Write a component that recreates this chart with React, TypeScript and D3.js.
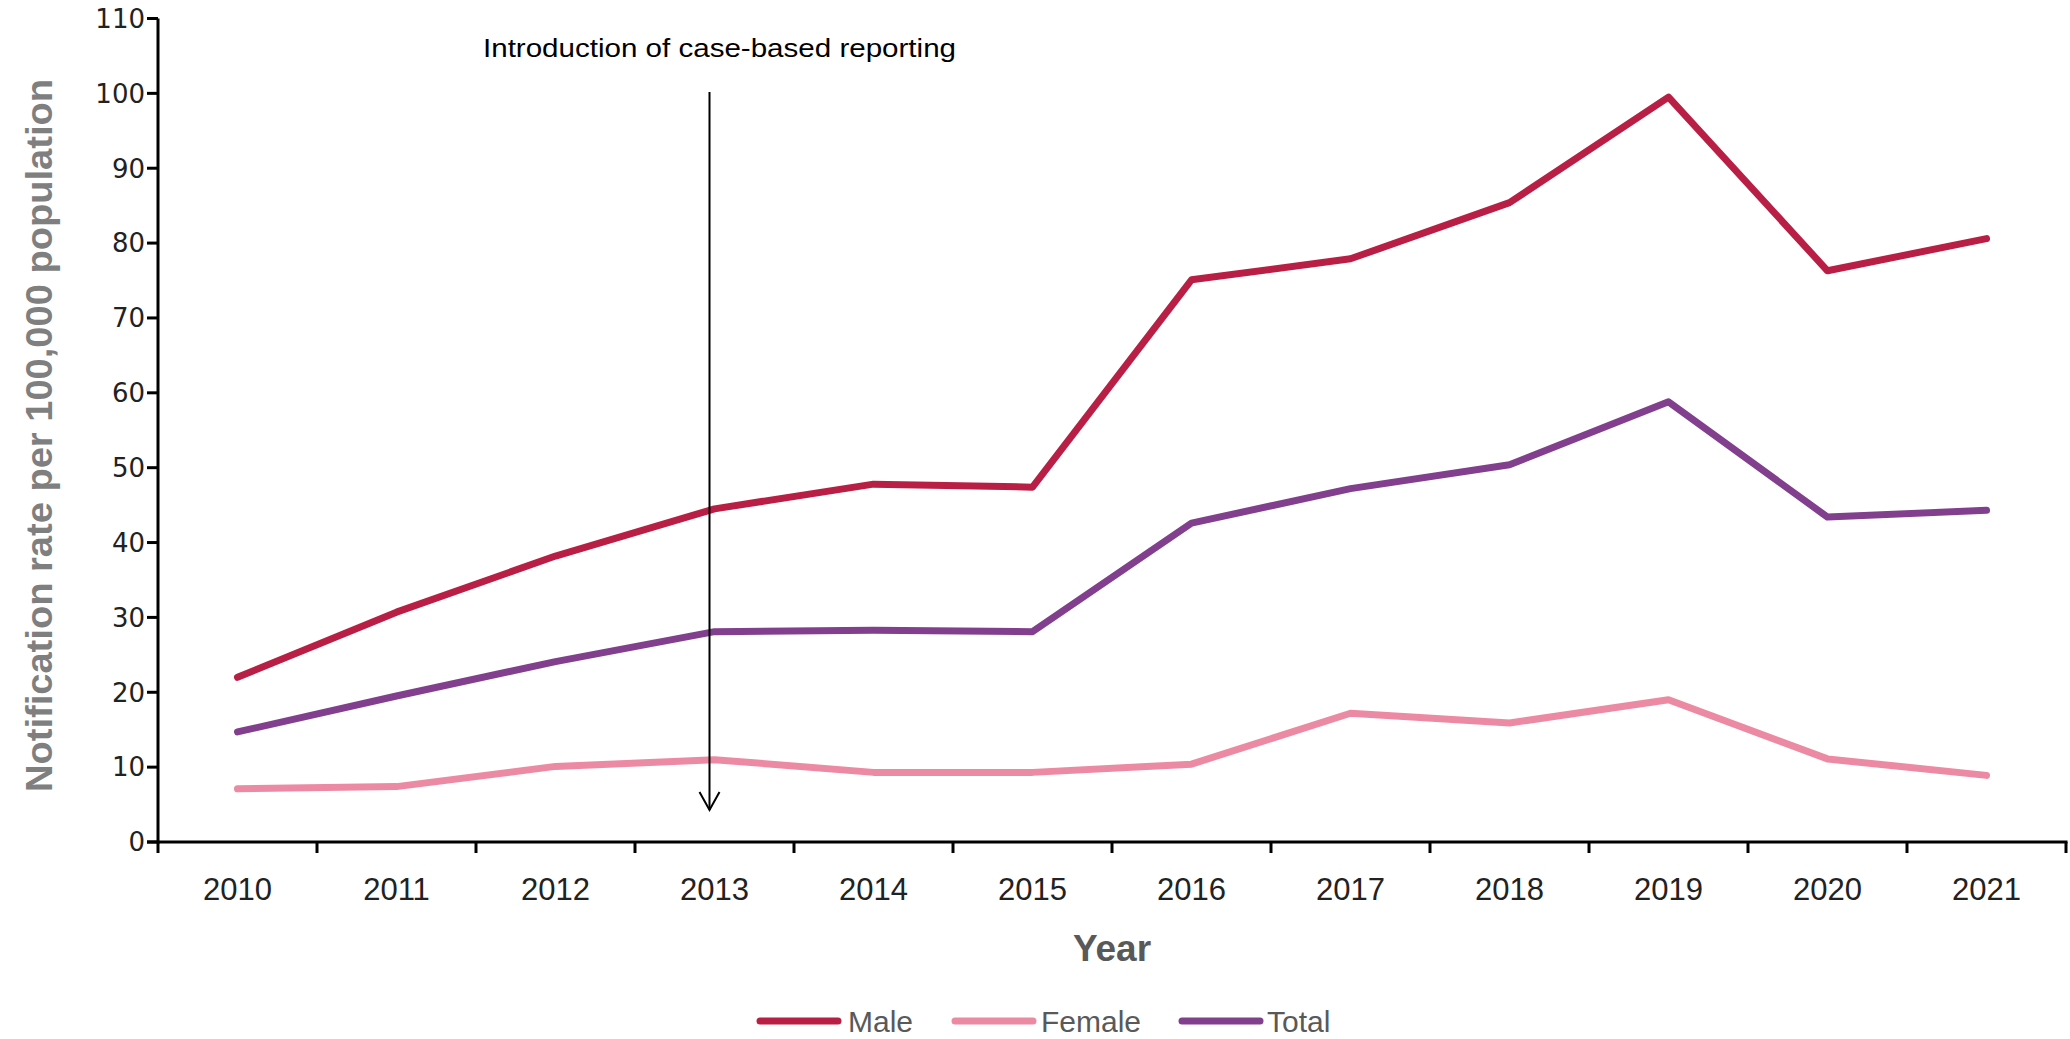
import React from "react";
import * as d3 from "d3";

const years = ["2010", "2011", "2012", "2013", "2014", "2015", "2016", "2017", "2018", "2019", "2020", "2021"];
const male = [22.0, 30.7, 38.2, 44.5, 47.8, 47.4, 75.1, 77.9, 85.4, 99.5, 76.3, 80.6];
const female = [7.1, 7.4, 10.1, 11.0, 9.3, 9.3, 10.4, 17.2, 15.9, 19.0, 11.1, 8.9];
const total = [14.7, 19.5, 24.1, 28.1, 28.3, 28.1, 42.6, 47.2, 50.4, 58.8, 43.4, 44.3];
const yTicks = [0, 10, 20, 30, 40, 50, 60, 70, 80, 90, 100, 110];
const seriesNames = ["Male", "Female", "Total"];
const seriesColors = ["#B91F45", "#EC8AA4", "#813F8D"];
const annotationText = "Introduction of case-based reporting";
const annotationYear = "2013";

export default function App() {
  const W = 2070;
  const H = 1039;
  const x0 = 158;
  const x1 = 2066;
  const yBase = 842;
  const yTop = 18.5;

  const x = d3.scaleBand<string>().domain(years).range([x0, x1]).padding(0);
  const y = d3.scaleLinear().domain([0, 110]).range([yBase, yTop]);
  const cx = (yr: string) => (x(yr) as number) + x.bandwidth() / 2;

  const line = d3
    .line<number>()
    .x((_, i) => cx(years[i]))
    .y((v) => y(v));

  const series = [male, female, total];

  const arrowX = cx(annotationYear) - 5;
  const arrowTop = 92;
  const arrowTip = 810;

  const legendY = 1021;
  const legendItems = [
    { lx: 757, tx: 848 },
    { lx: 952, tx: 1041 },
    { lx: 1179, tx: 1267 },
  ];

  return (
    <svg
      width={W}
      height={H}
      style={{ position: "absolute", left: 0, top: 0, display: "block", background: "#fff" }}
    >
      {/* axes */}
      <g stroke="#000" strokeWidth={3} fill="none">
        <line x1={x0} x2={x0} y1={yTop} y2={yBase + 1.5} />
        <line x1={x0 - 11} x2={x1 + 1.5} y1={yBase} y2={yBase} />
        {yTicks.map((t) => (
          <line key={"yt" + t} x1={x0 - 11} x2={x0} y1={y(t)} y2={y(t)} />
        ))}
        {years.map((yr) => (
          <line key={"xt" + yr} x1={x(yr) as number} x2={x(yr) as number} y1={yBase} y2={yBase + 11} />
        ))}
        <line x1={x1} x2={x1} y1={yBase} y2={yBase + 11} />
      </g>

      {/* y tick labels */}
      <g fontFamily="'DejaVu Sans', sans-serif" fontSize={26} fill="#222" textAnchor="end">
        {yTicks.map((t) => (
          <text key={"yl" + t} x={x0 - 13} y={y(t)} dy="0.36em">
            {t}
          </text>
        ))}
      </g>

      {/* x tick labels */}
      <g fontFamily="'Liberation Sans', Arial, sans-serif" fontSize={31} fill="#222" textAnchor="middle">
        {years.map((yr) => (
          <text key={"xl" + yr} x={cx(yr)} y={900}>
            {yr}
          </text>
        ))}
      </g>

      {/* axis titles */}
      <text
        x={1112}
        y={961}
        textAnchor="middle"
        fontFamily="'Liberation Sans', Arial, sans-serif"
        fontWeight="bold"
        fontSize={37}
        fill="#595959"
      >
        Year
      </text>
      <text
        transform={`translate(52, ${(79 + 792) / 2}) rotate(-90)`}
        textAnchor="middle"
        fontFamily="'Liberation Sans Narrow', 'Liberation Sans', Arial, sans-serif"
        fontWeight="bold"
        fontSize={36}
        fill="#7F7F7F"
        textLength={713}
        lengthAdjust="spacingAndGlyphs"
      >
        Notification rate per 100,000 population
      </text>

      {/* series lines */}
      {series.map((s, i) => (
        <path
          key={seriesNames[i]}
          d={line(s) || ""}
          fill="none"
          stroke={seriesColors[i]}
          strokeWidth={7}
          strokeLinejoin="round"
          strokeLinecap="round"
        />
      ))}

      {/* annotation */}
      <text
        x={719.5}
        y={57}
        textAnchor="middle"
        fontFamily="'Liberation Sans', Arial, sans-serif"
        fontSize={26}
        fill="#000"
        textLength={473}
        lengthAdjust="spacingAndGlyphs"
      >
        {annotationText}
      </text>
      <g stroke="#000" strokeWidth={2} fill="none">
        <line x1={arrowX} x2={arrowX} y1={arrowTop} y2={arrowTip} />
        <polyline points={`${arrowX - 10},${arrowTip - 18} ${arrowX},${arrowTip} ${arrowX + 10},${arrowTip - 18}`} />
      </g>

      {/* legend */}
      {legendItems.map((it, i) => (
        <g key={"lg" + i}>
          <line
            x1={it.lx + 3}
            x2={it.lx + 81}
            y1={legendY}
            y2={legendY}
            stroke={seriesColors[i]}
            strokeWidth={7}
            strokeLinecap="round"
          />
          <text
            x={it.tx}
            y={legendY}
            dy="0.36em"
            fontFamily="'Liberation Sans', Arial, sans-serif"
            fontSize={30}
            fill="#595959"
          >
            {seriesNames[i]}
          </text>
        </g>
      ))}
    </svg>
  );
}
